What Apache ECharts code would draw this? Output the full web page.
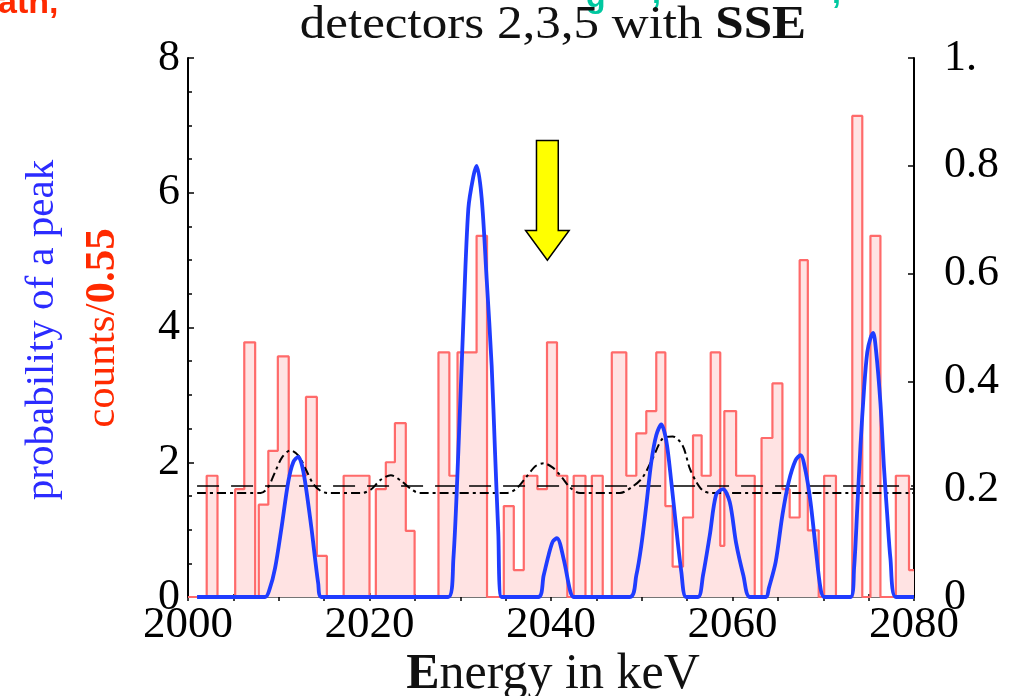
<!DOCTYPE html>
<html><head><meta charset="utf-8">
<script src="https://cdn.jsdelivr.net/npm/echarts@6/dist/echarts.min.js"></script>
<style>html,body{margin:0;padding:0;background:#fff;}#c{width:1016px;height:696px;}</style>
</head><body><div id="c"></div>
<script>
// ---- data ----
const energyRange = [2000, 2080];
const xTickValues = [2000, 2020, 2040, 2060, 2080];
const leftTickValues = [0, 2, 4, 6, 8];
const rightTickValues = [0, 0.2, 0.4, 0.6, 0.8, 1];

// histogram bin edges (keV) and counts/0.55 per bin
const histEdges = [2000, 2002.06, 2003.25, 2005.2, 2006.2, 2007.4, 2007.8, 2008.85, 2009.9, 2011.1, 2013.0, 2014.2, 2015.3, 2017.15, 2020.0, 2020.7, 2021.8, 2022.8, 2024.0, 2024.97, 2027.6, 2028.8, 2029.7, 2031.8, 2032.95, 2034.8, 2035.9, 2037.0, 2038.5, 2039.56, 2040.66, 2041.8, 2042.5, 2043.8, 2044.5, 2045.7, 2046.7, 2048.3, 2049.4, 2050.5, 2051.6, 2052.6, 2053.4, 2054.55, 2055.65, 2056.6, 2057.6, 2058.65, 2059.1, 2060.4, 2062.45, 2063.2, 2064.4, 2065.5, 2066.3, 2067.4, 2068.3, 2069.5, 2070.1, 2071.4, 2073.2, 2074.3, 2075.2, 2076.3, 2078.0, 2079.45, 2080];
const histCounts = [0, 1.8, 0, 1.6, 3.78, 0, 1.37, 2.17, 3.57, 1.8, 2.97, 0.61, 0, 1.8, 0, 1.6, 2.0, 2.58, 0.98, 0, 3.63, 1.8, 3.63, 5.36, 0, 1.35, 0.4, 1.8, 1.6, 3.78, 1.8, 0, 1.8, 0, 1.8, 0, 3.63, 1.8, 2.43, 2.76, 3.63, 1.35, 0.45, 1.18, 2.4, 1.8, 3.63, 0.76, 2.76, 1.8, 0, 2.36, 3.17, 1.6, 1.18, 5.0, 0.99, 0, 1.8, 0, 7.14, 0, 5.36, 0, 1.8, 0.4];

// probability of a peak (right axis)
const peakProbability = [[2001,0],[2008.5,0],[2009.0,0.015],[2009.6,0.054],[2010.3,0.128],[2011.05,0.214],[2011.6,0.25],[2012.15,0.26],[2012.5,0.248],[2012.9,0.214],[2013.6,0.128],[2014.35,0.025],[2014.7,0],
  [2028.68,0],[2029.24,0.07],[2029.79,0.27],[2030.34,0.51],[2030.89,0.72],[2031.44,0.78],[2031.81,0.80],[2032.36,0.74],[2032.91,0.59],[2033.46,0.43],[2033.83,0.27],[2034.19,0.12],[2034.56,0],
  [2038.6,0],[2039.19,0.04],[2039.74,0.078],[2040.2,0.103],[2040.66,0.109],[2041.4,0.07],[2042.13,0.01],[2042.5,0],
  [2048.7,0],[2049.4,0.04],[2049.95,0.095],[2050.5,0.17],[2051.05,0.25],[2051.6,0.30],[2052.15,0.32],[2052.7,0.29],[2053.26,0.213],[2053.8,0.128],[2054.36,0.047],[2054.9,0],
  [2056.2,0],[2056.75,0.04],[2057.5,0.115],[2058.2,0.19],[2058.95,0.20],[2059.7,0.176],[2060.4,0.10],[2061.2,0.04],[2061.9,0],
  [2063.7,0],[2064.0,0.016],[2064.76,0.065],[2065.5,0.152],[2066.2,0.214],[2066.96,0.254],[2067.5,0.263],[2068.07,0.232],[2068.6,0.176],[2069.17,0.09],[2069.7,0.016],[2070.1,0],
  [2073.0,0],[2073.4,0.054],[2073.75,0.165],[2074.1,0.28],[2074.5,0.387],[2074.85,0.454],[2075.2,0.48],[2075.5,0.49],[2075.8,0.46],[2076.3,0.36],[2076.7,0.238],[2077.05,0.152],[2077.4,0.072],[2078.0,0],[2080,0]];

// dash-dot background curve (right axis)
const bumpCurve = [[2001,0.193],[2008.0,0.193],[2008.8,0.203],[2009.6,0.232],[2010.4,0.26],[2011.3,0.272],[2012.2,0.262],[2013.0,0.236],[2013.8,0.21],[2014.6,0.197],[2015.4,0.193],
  [2019.2,0.193],[2020.2,0.2],[2021.2,0.217],[2022.35,0.226],[2023.5,0.215],[2024.6,0.2],[2025.5,0.193],
  [2035.2,0.193],[2036.3,0.203],[2037.4,0.225],[2038.3,0.243],[2039.2,0.248],[2040.2,0.24],[2041.2,0.222],[2042.1,0.203],[2043.2,0.193],
  [2047.6,0.193],[2049.0,0.205],[2050.1,0.222],[2051.2,0.257],[2052.3,0.294],[2053.4,0.298],[2054.5,0.281],[2055.3,0.238],[2056.0,0.214],[2056.7,0.198],[2057.6,0.193],[2080,0.193]];

// long-dashed flat level (right axis)
const flatLevel = [[2001,0.206],[2080,0.206]];

// annotation arrow (data coords: x keV, y right axis)
const arrowX = 2039.6;
const arrowLevels = {top: 0.847, neck: 0.680, tip: 0.625};

// ---- chart ----
const SERIF = 'Liberation Serif';
const histData = histEdges.map((e, i) => [e, histCounts[Math.min(i, histCounts.length - 1)]]);
const chart = echarts.init(document.getElementById('c'), null, {renderer: 'canvas'});

const option = {
  animation: false,
  backgroundColor: '#fff',
  grid: {left: 188, right: 102, top: 58, bottom: 99},
  xAxis: [{
    type: 'value', min: energyRange[0], max: energyRange[1], interval: 20, position: 'bottom',
    axisLine: {show: true, lineStyle: {color: '#000', width: 1.5}},
    axisTick: {show: true, inside: true, length: 4, lineStyle: {color: '#000', width: 1.5}},
    minorTick: {show: true, splitNumber: 4, length: 3, lineStyle: {color: '#000', width: 1.5}},
    axisLabel: {fontFamily: SERIF, fontSize: 45, color: '#000', margin: 6,
      formatter: v => xTickValues.includes(v) ? String(v) : ''},
    splitLine: {show: false}
  }, {
    type: 'value', min: energyRange[0], max: energyRange[1], interval: 5, position: 'top',
    axisLine: {show: true, lineStyle: {color: '#888', width: 1.5}},
    axisTick: {show: true, inside: true, length: 4, lineStyle: {color: '#000', width: 1.5}},
    axisLabel: {show: false}, splitLine: {show: false}
  }],
  yAxis: [{
    type: 'value', min: 0, max: 8, interval: 2, position: 'left',
    axisLine: {show: true, lineStyle: {color: '#000', width: 2}},
    axisTick: {show: true, inside: true, length: 6, lineStyle: {color: '#000', width: 1.5}},
    minorTick: {show: true, splitNumber: 4, length: 4, lineStyle: {color: '#000', width: 1.5}},
    axisLabel: {fontFamily: SERIF, fontSize: 44, color: '#000', margin: 8,
      formatter: v => leftTickValues.includes(v) ? String(v) : ''},
    splitLine: {show: false}
  }, {
    type: 'value', min: 0, max: 1, interval: 0.2, position: 'right',
    axisLine: {show: true, lineStyle: {color: '#000', width: 2}},
    axisTick: {show: true, inside: true, length: 6, lineStyle: {color: '#000', width: 1.5}},
    axisLabel: {fontFamily: SERIF, fontSize: 44, color: '#000', margin: 30,
      formatter: v => { const r = Math.round(v * 10) / 10; return r === 1 ? '1.' : r === 0 ? '0' : r.toFixed(1); }},
    splitLine: {show: false}
  }],
  series: [{
    name: 'counts', type: 'line', xAxisIndex: 0, yAxisIndex: 0, step: 'end', data: histData,
    showSymbol: false, symbol: 'none',
    lineStyle: {color: '#ff6a6a', width: 2.2},
    areaStyle: {color: '#ffe3e3', opacity: 1},
    z: 2
  }, {
    name: 'flat', type: 'line', xAxisIndex: 0, yAxisIndex: 1, data: flatLevel, symbol: 'none',
    lineStyle: {color: '#000', width: 1.6, type: [22, 12]}, z: 3
  }, {
    name: 'bump', type: 'line', xAxisIndex: 0, yAxisIndex: 1, data: bumpCurve, symbol: 'none', smooth: 0.3,
    lineStyle: {color: '#000', width: 2, type: [9, 4, 3, 4]}, z: 3
  }, {
    name: 'probability', type: 'line', xAxisIndex: 0, yAxisIndex: 1, data: peakProbability, symbol: 'none', smooth: 0.3,
    lineStyle: {color: '#1f3cff', width: 3.8}, z: 4
  }]
};
chart.setOption(option);

const P = (x, y) => chart.convertToPixel({seriesIndex: 3}, [x, y]);
const arrowPts = [
  P(arrowX - 1.2, arrowLevels.top), P(arrowX + 1.2, arrowLevels.top), P(arrowX + 1.2, arrowLevels.neck),
  P(arrowX + 2.4, arrowLevels.neck), P(arrowX, arrowLevels.tip), P(arrowX - 2.4, arrowLevels.neck), P(arrowX - 1.2, arrowLevels.neck)
];

const txt = (x, y, text, font, fill, extra) => Object.assign({
  type: 'text', x: x, y: y,
  style: {text: text, font: font, fill: fill, align: 'center', verticalAlign: 'middle', textAlign: 'center', textVerticalAlign: 'middle'}
}, extra || {});

chart.setOption({
  graphic: [
    {type: 'polygon', shape: {points: arrowPts}, style: {fill: '#ffff00', stroke: '#000', lineWidth: 1.5}, z: 10},
    {type: 'text', x: 553, y: 26, scaleX: 1.11, style: {text: '{n|detectors 2,3,5 with }{b|SSE}', align: 'center', verticalAlign: 'middle',
      rich: {n: {fontFamily: SERIF, fontSize: 46, fill: '#111'}, b: {fontFamily: SERIF, fontSize: 46, fontWeight: 'bold', fill: '#111'}}}},
    {type: 'text', x: 553, y: 675, style: {text: '{b|E}{n|nergy in keV}', align: 'center', verticalAlign: 'middle',
      rich: {n: {fontFamily: SERIF, fontSize: 50, fill: '#111'}, b: {fontFamily: SERIF, fontSize: 50, fontWeight: 'bold', fill: '#111'}}}},
    txt(42, 330, 'probability of a peak', '41px ' + SERIF, '#2b2bff', {rotation: Math.PI / 2}),
    {type: 'text', x: 103, y: 328, rotation: Math.PI / 2, style: {text: '{a|counts/}{b|0.55}', align: 'center', verticalAlign: 'middle',
      rich: {a: {fontFamily: SERIF, fontSize: 43, fill: '#ff2a00'}, b: {fontFamily: SERIF, fontSize: 43, fontWeight: 'bold', fill: '#ff2a00'}}}},
    txt(1034, 330, 'probability of a peak', '41px ' + SERIF, '#6a6aff', {rotation: Math.PI / 2}),
    {type: 'text', x: -2, y: 21, style: {text: 'ath,', font: 'bold 34px Liberation Sans', fill: '#ff2a00', align: 'left', verticalAlign: 'bottom'}},
    {type: 'text', x: 586, y: 14, style: {text: 'g', font: 'bold 32px Liberation Sans', fill: '#00c8a0', align: 'left', verticalAlign: 'bottom'}, z: -1},
    {type: 'text', x: 652, y: 10, style: {text: ',', font: 'bold 32px Liberation Sans', fill: '#00c8a0', align: 'left', verticalAlign: 'bottom'}, z: -1},
    {type: 'text', x: 832, y: 10, style: {text: ',', font: 'bold 32px Liberation Sans', fill: '#00c8a0', align: 'left', verticalAlign: 'bottom'}, z: -1}
  ]
});
</script>
</body></html>
